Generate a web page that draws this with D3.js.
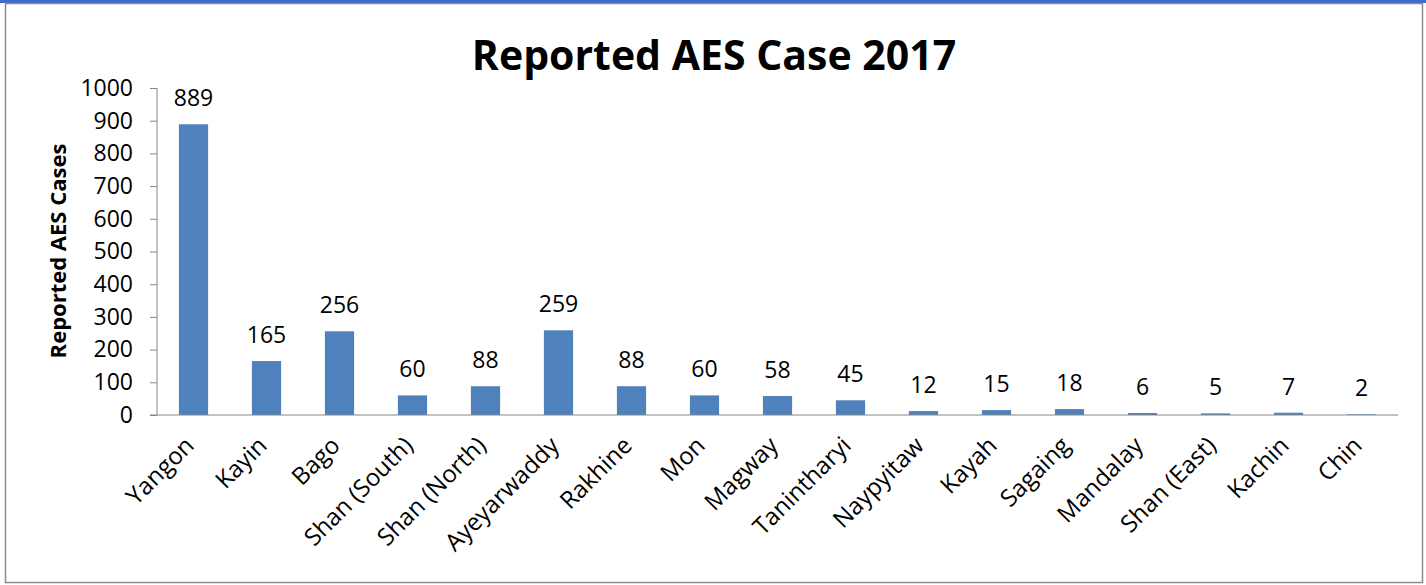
<!DOCTYPE html>
<meta charset="utf-8">
<style>
body { margin: 0; background: #fff; }
text { font-family: "Open Sans", sans-serif; fill: #000; }
.axis path, .axis line { stroke: #868686; }
</style>
<body>
<script src="https://d3js.org/d3.v7.min.js"></script>
<script>
// chart data
var regions = ["Yangon", "Kayin", "Bago", "Shan (South)", "Shan (North)", "Ayeyarwaddy",
  "Rakhine", "Mon", "Magway", "Tanintharyi", "Naypyitaw", "Kayah", "Sagaing",
  "Mandalay", "Shan (East)", "Kachin", "Chin"];
var cases = [889, 165, 256, 60, 88, 259, 88, 60, 58, 45, 12, 15, 18, 6, 5, 7, 2];
var yTicks = [0, 100, 200, 300, 400, 500, 600, 700, 800, 900, 1000];

var W = 1426, H = 585;
var margin = {top: 88, left: 157, bottom: 170, right: 28};
var width = 1398 - margin.left,
    height = 415 - margin.top;

var svg = d3.select("body").append("svg")
    .attr("width", W)
    .attr("height", H);

// top blue strip and chart frame
svg.append("rect").attr("x", 0).attr("y", 0).attr("width", W).attr("height", 3).attr("fill", "#3a6fd0");
svg.append("rect").attr("x", 5.5).attr("y", 3.5).attr("width", 1417).attr("height", 579)
    .attr("fill", "none").attr("stroke", "#8c8c8c").attr("stroke-width", 1.5);

var g = svg.append("g").attr("transform", "translate(" + margin.left + "," + margin.top + ")");

var x = d3.scaleBand().domain(regions).range([0, width]).paddingInner(0.6).paddingOuter(0.3);
var y = d3.scaleLinear().domain([0, 1000]).range([height, 0]);

// y axis
var yAxis = g.append("g").attr("class", "axis")
    .call(d3.axisLeft(y).tickValues(yTicks).tickFormat(d3.format("d"))
      .tickSize(7).tickSizeOuter(0).tickPadding(17));
yAxis.selectAll("text").style("font-size", "23px");
yAxis.select(".domain").attr("d", "M0," + height + "V0");

// bars
g.selectAll(".bar")
    .data(cases)
  .enter().append("rect")
    .attr("class", "bar")
    .attr("x", function(d, i) { return x(regions[i]); })
    .attr("y", function(d) { return y(d); })
    .attr("width", x.bandwidth())
    .attr("height", function(d) { return height - y(d); })
    .attr("fill", "#4f81bd");

// x axis line
var xAxis = g.append("g").attr("class", "axis")
    .attr("transform", "translate(0," + height + ")")
    .call(d3.axisBottom(x).tickSize(0).tickSizeOuter(0).tickPadding(0));
xAxis.select(".domain").attr("d", "M-7,0H" + width);
xAxis.selectAll("text")
    .style("font-size", "24px")
    .attr("text-anchor", "end")
    .attr("dy", 0)
    .attr("transform", "translate(2,32) rotate(-45)");

// value labels
g.selectAll(".val")
    .data(cases)
  .enter().append("text")
    .attr("class", "val")
    .attr("x", function(d, i) { return x(regions[i]) + x.bandwidth() / 2; })
    .attr("y", function(d) { return y(d) - 18; })
    .attr("text-anchor", "middle")
    .style("font-size", "23px")
    .text(function(d) { return d; });

// title
svg.append("text")
    .attr("x", 714).attr("y", 70)
    .attr("text-anchor", "middle")
    .style("font-size", "41px").style("font-weight", "bold")
    .text("Reported AES Case 2017");

// y axis title
svg.append("text")
    .attr("transform", "translate(66,251) rotate(-90)")
    .attr("text-anchor", "middle")
    .style("font-size", "22px").style("font-weight", "bold")
    .text("Reported AES Cases");
</script>
</body>
